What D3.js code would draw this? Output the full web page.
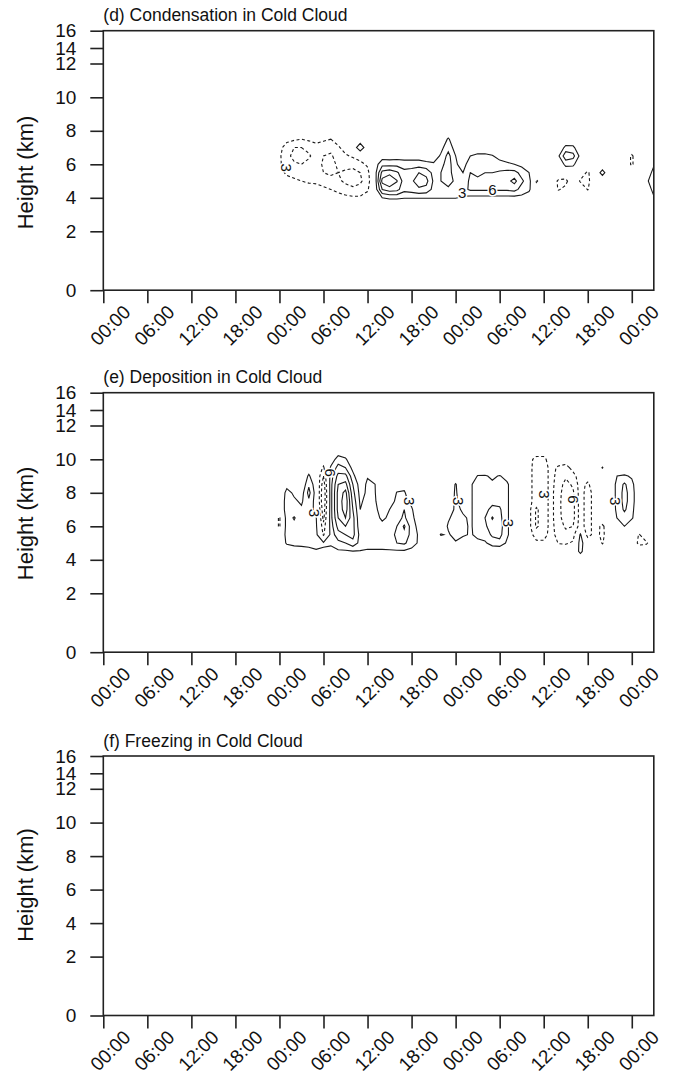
<!DOCTYPE html>
<html>
<head>
<meta charset="utf-8">
<script src="https://cdn.jsdelivr.net/npm/d3@7"></script>
<style>
  body { margin: 0; background: #fff; }
  text { font-family: "Liberation Sans", Arial, Helvetica, sans-serif; fill: #111; }
</style>
</head>
<body>
<div id="chart"></div>
<script>
// ---------------- data ----------------
const panelTitles = ["(d) Condensation in Cold Cloud", "(e) Deposition in Cold Cloud", "(f) Freezing in Cold Cloud"];

// hours since the first 00:00 and their labels
const timeTicks = [0, 6, 12, 18, 24, 30, 36, 42, 48, 54, 60, 66, 72];
const timeTickLabels = ["00:00", "06:00", "12:00", "18:00", "00:00", "06:00", "12:00", "18:00", "00:00", "06:00", "12:00", "18:00", "00:00"];
const timeDomain = [0, 75];

const heightTicks = [0, 2, 4, 6, 8, 10, 12, 14, 16];
const heightStep = 0.5;   // km between grid rows
const contourLevels = [3, 6, 9, 12, 15];

// field columns: [hour, lowest height (km), values upward every 0.5 km]
const condensationCols = [
  [24, 5.5, [-2, -2.5, -2.5, -2]],
  [25, 5.0, [-2, -3.5, -4.5, -5, -4.5, -2]],
  [26, 4.5, [-1.5, -2.5, -4, -5.5, -7, -6, -2.5]],
  [27, 4.5, [-1.5, -3, -4.5, -6, -7, -6, -3]],
  [28, 4.5, [-1.5, -3.5, -4, -5, -6.5, -5, -2.5]],
  [29, 4.5, [-2, -3.5, -4, -4.5, -4.5, -4, -2]],
  [30, 4.5, [-2.5, -4, -6, -6.5, -6, -4.5, -2.5]],
  [31, 4.5, [-3, -5, -6.5, -7, -6.5, -5, -3]],
  [32, 4.0, [-1.5, -4, -5.5, -6, -5.5, -4.5, -3.5, -1.5]],
  [33, 4.0, [-2, -5, -6.5, -6.5, -5, -3.5, -1.5]],
  [34, 4.0, [-2.5, -5.5, -7, -7, -5, -2.5]],
  [35, 4.0, [-2.5, -5, -6.5, -6, -4, -1.5, 6]],
  [36, 4.0, [-1.5, -3.5, -4.5, -4, -2.5]],
  [37, 4.0, [0.5, 1, 1, 1.5, 1.5, 0.5]],
  [38, 4.0, [3, 9, 13, 10, 5, 1.5]],
  [39, 4.0, [3.5, 10.5, 15, 11, 5, 1.2]],
  [40, 4.0, [3.5, 10, 12.2, 9.5, 5, 1.5]],
  [41, 4.0, [3.2, 7, 7.5, 7, 4.5, 1.5]],
  [42, 4.0, [3.2, 7.5, 8.5, 7.5, 4.5, 1.5]],
  [43, 4.0, [3.2, 8.5, 10.5, 9, 4.5, 1.5]],
  [44, 4.0, [3.2, 8, 10, 8, 4, 1]],
  [45, 4.0, [3.2, 5, 5.5, 5, 3.5, 1]],
  [46, 4.0, [3.2, 5, 6, 6, 5, 3.5, 2]],
  [47, 4.0, [3.2, 5.5, 7, 7.5, 7.5, 7, 5, 3.5]],
  [48, 4.0, [3.2, 5, 5.5, 4, 3.5, 3, 1.5]],
  [49, 4.0, [2.5, 5, 4.5, 3, 1.5]],
  [50, 4.0, [2, 6.5, 6.5, 6, 5, 3]],
  [51, 4.0, [2, 6.5, 6.5, 5.5, 4.5, 3.5, 1.5]],
  [52, 4.0, [2, 6.5, 6.5, 6, 5, 3.5, 1.5]],
  [53, 4.0, [2, 6.5, 6.5, 6, 4.5, 3.2, 1]],
  [54, 4.0, [2, 6.5, 7, 6.5, 4, 2]],
  [55, 4.0, [2, 6.5, 8, 7, 3.5, 1.5]],
  [56, 4.0, [2, 7, 10, 7, 3, 1]],
  [57, 4.0, [2, 5, 6.5, 5, 2]],
  [58, 4.0, [1.5, 3.5, 4.5, 3, 1]],
  [59, 5.0, [-3.6]],
  [62, 4.5, [-3.3, -3.6, 0, 0, 2.5]],
  [63, 4.5, [-2, -4, 0, 4, 8, 4]],
  [64, 6.0, [3.8, 7, 3.8]],
  [65, 5.0, [-3.4, -1, 0, 2]],
  [66, 4.5, [-3.2, -4, -3.6]],
  [68, 5.5, [4.5]],
  [72, 6.0, [-3.6, -3.6]],
  [74, 5.0, [2]],
  [75, 4.0, [2.5, 4.5, 6, 4.5, 2.5]]
];

const depositionCols = [
  [24, 6.0, [-3.5, -3.5]],
  [25, 5.0, [3.5, 4, 4.5, 4.5, 4.5, 4.5, 4, 2]],
  [26, 4.5, [1, 4, 4.5, 5, 6.3, 4, 3.5, 2.5, 1]],
  [27, 4.5, [1.5, 4, 4.5, 4.5, 4, 3.5, 2.5, 1.5]],
  [28, 4.5, [2, 4, 4.5, 4.5, 4.5, 4.5, 5.5, 7, 5.5, 3.5, 1]],
  [29, 4.5, [2.5, 4.5, 4, 3.5, 3.2, 2, 1.5, 1.5, 1]],
  [30, 4.5, [2.5, 3.5, -3.5, -5, -7, -8, -9, -9, -8, -6, -3.5, -1]],
  [31, 4.5, [2, 3.5, 4, 4.5, 5, 5, 5, 5, 5, 4.5, 3.5, 1, 0]],
  [32, 4.5, [2.5, 5, 8, 10, 12, 13, 13, 13, 12, 10, 7, 4.5, 1]],
  [33, 4.5, [2.5, 6, 9, 12, 15, 16.5, 17, 16, 13, 10, 6, 3.5, 0.5]],
  [34, 4.5, [2.8, 8, 10, 10, 10, 9, 8, 7, 6, 4, 2]],
  [35, 4.5, [2.8, 5, 5, 4, 3.5, 3, 2.5, 2, 1.5]],
  [36, 4.5, [2.5, 4.5, 4.5, 4.5, 4.5, 4.5, 4, 3.5, 3.5, 2.8]],
  [37, 4.5, [2.5, 4.5, 4.5, 4.2, 4, 3.8, 3.5, 3.2, 3.1, 1]],
  [38, 4.5, [2.5, 4.5, 4.5, 3.8, 2.5, 1.5]],
  [39, 4.5, [2.5, 5, 5, 4, 3.5, 3, 2]],
  [40, 4.5, [2.5, 6, 6.5, 6, 5, 4, 3.5, 3.2, 1]],
  [41, 4.5, [2.5, 6.5, 8, 9.5, 6.5, 6, 4, 3.5, 1.5]],
  [42, 4.5, [2, 4.5, 5, 4.5, 4, 3.5, 2]],
  [43, 4.5, [1, 2.5, 2.5, 2, 1]],
  [46, 5.5, [3.3]],
  [47, 5.5, [2.5, 3.5, 2.5]],
  [48, 5.0, [2.5, 4.5, 5, 4.5, 4, 3.8, 3.6, 3.3]],
  [49, 5.5, [3.8, 4, 3.5, 2.5, 1]],
  [50, 5.5, [2.5, 2.5, 2.5, 2.5, 2.5, 2.5, 2.5]],
  [51, 5.0, [2, 4, 4.5, 4.5, 4.5, 4.5, 4.5, 4.5, 3.2]],
  [52, 5.0, [2.5, 4.5, 5.5, 6, 5, 4.5, 4, 3.8, 3.3]],
  [53, 5.0, [4.5, 6.5, 7.5, 9.3, 7, 5, 4, 3.5, 2.5]],
  [54, 5.0, [5, 7, 7.5, 7, 6.5, 5, 4, 3.8, 3.2]],
  [55, 5.0, [2.5, 3.5, 3.5, 3.5, 3.5, 3.5, 3.5, 3.5, 2]],
  [56, 5.0, [1, 1, 1, 1, 1, 1, 1, 1]],
  [58, 5.5, [-2, -2, -2, -2, -2, -2, -2, -2, -2, -2]],
  [59, 5.0, [-2.5, -4, -6.5, -6.5, -6.5, -4.5, -4.5, -4.5, -4.5, -4.5, -4, -1]],
  [60, 5.0, [-2.5, -4, -4.5, -4.5, -4.5, -4.5, -4.5, -4.5, -4.5, -4.5, -4, -1]],
  [61, 5.5, [-2, -2, -2, -2, -2, -2, -2, -2, -2, -1]],
  [62, 5.0, [-3.2, -4, -4.5, -5, -5, -5, -5, -4.5, -4, -3.5, -1]],
  [63, 5.0, [-3.5, -5, -6.5, -7.5, -8, -8, -7.5, -7, -5.5, -4, -1.5]],
  [64, 5.0, [-2.5, -4.5, -6, -7, -7, -7, -6.5, -5.5, -4, -2]],
  [65, 4.5, [4, 4.5, 3.5, -1.5, -1.5, -1.5, -1.5, -1.5, -1.5, -1.5]],
  [66, 5.5, [-4.5, -4.5, -4.5, -4.5, -4.5, -4.5, -3.8, -1]],
  [67, 5.5, [-1.5, -1.5, -1.5, -1.5, -1.5, -1.5]],
  [68, 5.0, [-3.3, -4, -3.8]],
  [68, 9.5, [3.2]],
  [70, 6.5, [3.1, 3.8, 4, 4, 4, 3]],
  [71, 6.0, [3, 4.5, 6.5, 7, 7, 6.5, 3.5]],
  [72, 6.5, [3.5, 4, 4.5, 4.5, 4, 2.5]],
  [73, 5.0, [-4, -3.3]],
  [74, 5.0, [-3.5]]
];

const freezingCols = [];

// contour labels: [hour, height (km), text, angle]
const condensationLabels = [[25.0, 5.8, "3", 90], [48.9, 4.3, "3", 0], [53.0, 4.5, "6", 0]];
const depositionLabels = [
  [28.7, 6.8, "3", 90], [30.9, 9.2, "6", 90], [41.7, 7.5, "3", 90], [48.4, 7.5, "3", 90],
  [55.2, 6.2, "3", 90], [60.1, 7.9, "3", 90], [64.0, 7.6, "6", 90], [69.8, 7.5, "3", 90]
];
const freezingLabels = [];

// ---------------- layout ----------------
const width = 678, height = 1079;
const plotLeft = 103.3, plotW = 550.5, plotH = 259.5;
const panelTops = [30.7, 392.7, 756];
const yTitleCenters = [141.8, 130.7, 129];

const svg = d3.select("#chart").append("svg")
  .attr("width", width).attr("height", height);

const x = d3.scaleLinear().domain(timeDomain).range([0, plotW]);
// the height axis is stretched unevenly (model levels)
const y = d3.scaleLinear().domain(heightTicks)
  .range([plotH, 200.6, 167.1, 133.6, 100.1, 66.6, 32.8, 17.3, 0]);

const nt = timeDomain[1] + 1;
const nh = Math.round(heightTicks[heightTicks.length - 1] / heightStep) + 1;

function buildGrid(cols) {
  const values = new Array(nt * nh).fill(0);
  cols.forEach(([t, h0, vals]) => {
    vals.forEach((v, k) => {
      const j = Math.round(h0 / heightStep) + k;
      values[j * nt + t] = v;
    });
  });
  return values;
}

const line = d3.line()
  .x(p => x(p[0] - 0.5))
  .y(p => y((p[1] - 0.5) * heightStep));

function contourPath(geom) {
  return geom.coordinates.map(poly => poly.map(ring => line(ring) + "Z").join("")).join("");
}

const panels = [
  {cols: condensationCols, labels: condensationLabels},
  {cols: depositionCols, labels: depositionLabels},
  {cols: freezingCols, labels: freezingLabels}
];

panels.forEach((p, i) => {
  const top = panelTops[i];
  const g = svg.append("g").attr("transform", `translate(${plotLeft},${top})`);

  g.append("clipPath").attr("id", "clip" + i)
    .append("rect").attr("width", plotW).attr("height", plotH);

  const values = buildGrid(p.cols);
  const gen = d3.contours().size([nt, nh]).thresholds(contourLevels);
  const pos = gen(values);
  const neg = gen(values.map(v => -v));

  const cg = g.append("g").attr("clip-path", `url(#clip${i})`);
  cg.selectAll("path.pos")
    .data(pos.filter(c => c.coordinates.length))
    .join("path")
    .attr("class", "pos")
    .attr("d", contourPath)
    .attr("fill", "none")
    .attr("stroke", "#1a1a1a")
    .attr("stroke-width", 1.1);
  cg.selectAll("path.neg")
    .data(neg.filter(c => c.coordinates.length))
    .join("path")
    .attr("class", "neg")
    .attr("d", contourPath)
    .attr("fill", "none")
    .attr("stroke", "#1a1a1a")
    .attr("stroke-width", 1.1)
    .attr("stroke-dasharray", "3,2.5");

  cg.selectAll("text.lab")
    .data(p.labels)
    .join("text")
    .attr("class", "lab")
    .attr("transform", d => `translate(${x(d[0])},${y(d[1])}) rotate(${d[3]})`)
    .attr("text-anchor", "middle")
    .attr("dy", "0.36em")
    .attr("font-size", 15)
    .attr("stroke", "#fff")
    .attr("stroke-width", 3)
    .attr("paint-order", "stroke")
    .text(d => d[2]);

  // frame
  g.append("rect")
    .attr("width", plotW).attr("height", plotH)
    .attr("fill", "none").attr("stroke", "#222").attr("stroke-width", 1.6);

  // axes
  const yAxis = g.append("g")
    .call(d3.axisLeft(y).tickValues(heightTicks).tickSize(13).tickSizeOuter(0).tickPadding(14));
  yAxis.select(".domain").remove();
  yAxis.selectAll(".tick line").attr("stroke", "#222").attr("stroke-width", 1.6);
  yAxis.selectAll(".tick text").attr("font-size", 19).attr("fill", "#111")
    .attr("font-family", '"Liberation Sans", Arial, sans-serif');

  const xAxis = g.append("g").attr("transform", `translate(0,${plotH})`)
    .call(d3.axisBottom(x).tickValues(timeTicks).tickFormat((d, k) => timeTickLabels[k])
      .tickSize(13).tickSizeOuter(0));
  xAxis.select(".domain").remove();
  xAxis.selectAll(".tick line").attr("stroke", "#222").attr("stroke-width", 1.6);
  xAxis.selectAll(".tick text")
    .attr("font-size", 19).attr("fill", "#111")
    .attr("font-family", '"Liberation Sans", Arial, sans-serif')
    .attr("text-anchor", "end")
    .attr("y", 0).attr("dy", 0)
    .attr("transform", "translate(28,23) rotate(-45)");

  // y title
  g.append("text")
    .attr("transform", `translate(${33 - plotLeft},${yTitleCenters[i]}) rotate(-90)`)
    .attr("text-anchor", "middle")
    .attr("font-size", 22)
    .text("Height (km)");

  // panel title
  g.append("text")
    .attr("x", 0).attr("y", -9.5)
    .attr("font-size", 17.5)
    .text(panelTitles[i]);
});
</script>
</body>
</html>
